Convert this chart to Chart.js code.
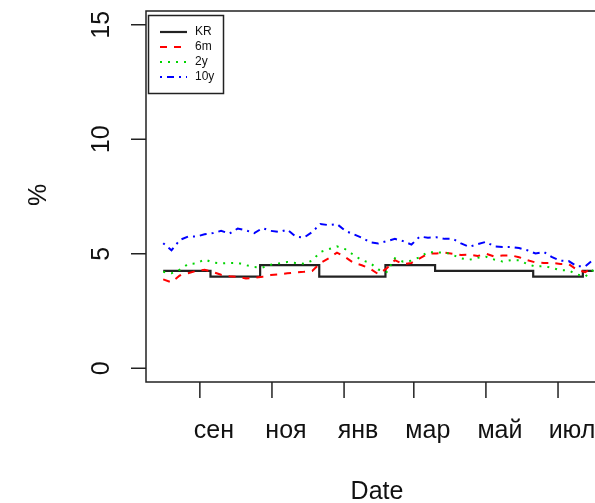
<!DOCTYPE html>
<html>
<head>
<meta charset="utf-8">
<script src="https://cdn.jsdelivr.net/npm/chart.js@4.4.1/dist/chart.umd.min.js"></script>
<style>
  html, body { margin: 0; padding: 0; background: #fff; }
  #wrap { width: 595px; height: 503px; overflow: hidden; }
  canvas { display: block; }
</style>
</head>
<body>
<div id="wrap"><canvas id="myChart" width="620" height="503"></canvas></div>
<script>
// days since 1 Aug, weekly observations
const days = [0, 7, 14, 21, 28, 35, 42, 49, 56, 63, 70, 77, 84, 91, 98, 105, 112, 119, 126, 133,
  140, 147, 154, 161, 168, 175, 182, 189, 196, 203, 210, 217, 224, 231, 238, 245, 252, 259, 266,
  273, 280, 287, 294, 301, 308, 315, 322, 329, 336, 343, 350, 357, 364];

// key rate changes (step function)
const krDays = [0, 40, 82, 132, 188, 230, 313, 355, 364];
const krValues = [4.25, 4.0, 4.5, 4.0, 4.5, 4.25, 4.0, 4.25, 4.25];

const m6Values = [3.88, 3.75, 4.05, 4.15, 4.25, 4.3, 4.2, 4.08, 4.02, 3.99, 3.92, 3.95, 4.0, 4.07,
  4.1, 4.15, 4.18, 4.21, 4.25, 4.6, 4.8, 5.05, 4.85, 4.6, 4.5, 4.35, 4.11, 4.36, 4.72, 4.55, 4.6,
  4.8, 5.01, 5.01, 5.05, 5.0, 4.95, 4.96, 4.9, 5.0, 4.88, 4.92, 4.93, 4.85, 4.72, 4.62, 4.6, 4.6,
  4.55, 4.55, 4.3, 4.2, 4.4];

const y2Values = [4.21, 4.15, 4.3, 4.55, 4.58, 4.75, 4.62, 4.58, 4.6, 4.6, 4.5, 4.42, 4.4, 4.52,
  4.58, 4.64, 4.6, 4.56, 4.7, 5.08, 5.2, 5.32, 5.2, 4.95, 4.72, 4.6, 4.31, 4.2, 4.8, 4.65, 4.7,
  4.85, 5.08, 5.05, 5.06, 4.95, 4.8, 4.74, 4.82, 4.87, 4.75, 4.66, 4.72, 4.72, 4.55, 4.44, 4.46,
  4.38, 4.28, 4.27, 4.1, 4.0, 4.3];

const y10Values = [5.46, 5.15, 5.6, 5.75, 5.75, 5.85, 5.9, 6.0, 5.88, 6.1, 6.02, 5.9, 6.12, 6.0,
  5.95, 6.05, 5.75, 5.7, 5.95, 6.3, 6.25, 6.3, 6.0, 5.85, 5.7, 5.5, 5.45, 5.55, 5.65, 5.55, 5.4,
  5.75, 5.7, 5.72, 5.65, 5.65, 5.45, 5.3, 5.42, 5.52, 5.32, 5.3, 5.3, 5.25, 5.15, 5.01, 5.08, 4.85,
  4.7, 4.68, 4.45, 4.45, 4.75];

// axis ticks
const xTickDays = [31, 92, 153, 212, 273, 334];
const xTickLabels = ["сен", "ноя", "янв", "мар", "май", "июл"];
const yTicks = [0, 5, 10, 15];

const FONT = '"Liberation Sans", Arial, sans-serif';

const toPoints = (xs, ys) => xs.map((d, i) => ({ x: d, y: ys[i] }));

// R-like frame, axes and legend
const rPlot = {
  id: "rPlot",
  beforeDraw(chart) {
    const ctx = chart.ctx;
    ctx.save();
    ctx.fillStyle = "#fff";
    ctx.fillRect(0, 0, chart.width, chart.height);
    ctx.restore();
  },
  afterDraw(chart) {
    const { ctx, chartArea: a, scales } = chart;
    const x = scales.x, y = scales.y;
    ctx.save();
    ctx.strokeStyle = "#222";
    ctx.fillStyle = "#111";
    ctx.lineWidth = 1.5;
    ctx.strokeRect(a.left, a.top, a.right - a.left, a.bottom - a.top);

    ctx.font = "25px " + FONT;
    // y axis
    yTicks.forEach((v) => {
      const py = y.getPixelForValue(v);
      ctx.beginPath();
      ctx.moveTo(a.left - 15, py);
      ctx.lineTo(a.left, py);
      ctx.stroke();
      ctx.save();
      ctx.translate(109, py);
      ctx.rotate(-Math.PI / 2);
      ctx.textAlign = "center";
      ctx.textBaseline = "alphabetic";
      ctx.fillText(String(v), 0, 0);
      ctx.restore();
    });
    // x axis
    xTickDays.forEach((d, i) => {
      const px = x.getPixelForValue(d);
      ctx.beginPath();
      ctx.moveTo(px, a.bottom);
      ctx.lineTo(px, a.bottom + 16);
      ctx.stroke();
      ctx.textAlign = "center";
      ctx.textBaseline = "alphabetic";
      ctx.fillText(xTickLabels[i], px + 14, 438);
    });
    // titles
    ctx.textAlign = "center";
    ctx.fillText("Date", 377, 499);
    ctx.save();
    ctx.translate(46, 195);
    ctx.rotate(-Math.PI / 2);
    ctx.fillText("%", 0, 0);
    ctx.restore();

    // legend
    ctx.lineWidth = 1.5;
    ctx.strokeRect(148.5, 15.5, 75, 78);
    ctx.font = "12px " + FONT;
    ctx.textAlign = "left";
    ctx.textBaseline = "middle";
    const rows = [32, 47, 62, 77];
    chart.data.datasets.forEach((ds, i) => {
      ctx.save();
      ctx.strokeStyle = ds.borderColor;
      ctx.lineWidth = ds.borderWidth;
      ctx.setLineDash(ds.borderDash || []);
      ctx.beginPath();
      ctx.moveTo(160, rows[i]);
      ctx.lineTo(187, rows[i]);
      ctx.stroke();
      ctx.restore();
      ctx.fillText(ds.label, 195, rows[i]);
    });
    ctx.restore();
  },
};

new Chart(document.getElementById("myChart").getContext("2d"), {
  type: "line",
  data: {
    datasets: [
      {
        label: "KR",
        data: toPoints(krDays, krValues),
        stepped: true,
        borderColor: "#222",
        borderWidth: 2.2,
        order: 4,
      },
      {
        label: "6m",
        data: toPoints(days, m6Values),
        borderColor: "#ff0000",
        borderWidth: 2,
        borderDash: [7, 7],
        order: 3,
      },
      {
        label: "2y",
        data: toPoints(days, y2Values),
        borderColor: "#00d400",
        borderWidth: 2,
        borderDash: [2, 6],
        order: 2,
      },
      {
        label: "10y",
        data: toPoints(days, y10Values),
        borderColor: "#0000ff",
        borderWidth: 2,
        borderDash: [2, 5, 7, 5],
        order: 1,
      },
    ],
  },
  options: {
    responsive: false,
    animation: false,
    devicePixelRatio: 1,
    layout: { padding: { left: 146, top: 11, right: 9.3, bottom: 121 } },
    elements: { point: { radius: 0 }, line: { tension: 0, fill: false } },
    plugins: { legend: { display: false }, tooltip: { enabled: false } },
    scales: {
      x: { type: "linear", display: false, min: -14.56, max: 378.56 },
      y: { type: "linear", display: false, min: -0.6, max: 15.6 },
    },
  },
  plugins: [rPlot],
});
</script>
</body>
</html>
